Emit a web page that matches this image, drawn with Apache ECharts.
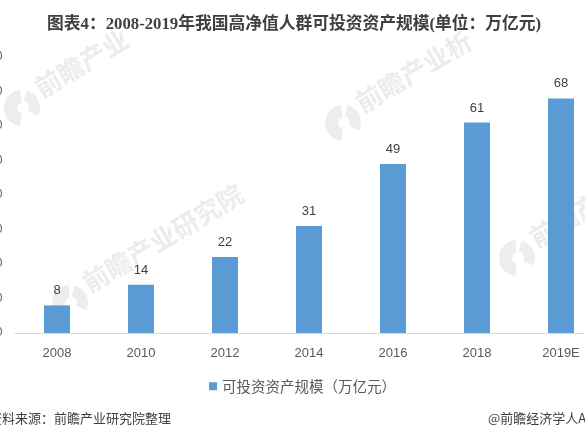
<!DOCTYPE html>
<html>
<head>
<meta charset="utf-8">
<style>html,body{margin:0;padding:0;background:#fff}#chart{width:585px;height:439px}</style>
<script src="https://cdn.jsdelivr.net/npm/echarts@6/dist/echarts.min.js"></script>
</head>
<body>
<div id="chart"></div>
<script>
var years = ['2008','2010','2012','2014','2016','2018','2019E'];
var assets = [8,14,22,31,49,61,68];
var seriesName = '可投资资产规模（万亿元）';
var titleText = '图表4：2008-2019年我国高净值人群可投资资产规模(单位：万亿元)';
var fontCn = '"Noto Sans CJK SC","Noto Sans",sans-serif';

// 水印
function rad(d){ return d*Math.PI/180; }
function watermark(x, y, text){
	return [
		{type:'sector', silent:true, z:0,
			shape:{cx:x, cy:y, r:18, r0:5, startAngle:rad(95), endAngle:rad(265)},
			style:{fill:'#ededed'}},
		{type:'sector', silent:true, z:0,
			shape:{cx:x, cy:y, r:18, r0:7, startAngle:rad(285), endAngle:rad(385)},
			style:{fill:'#ededed'}},
		{type:'text', x:x+15, y:y-18, rotation:rad(31), silent:true, z:0,
			style:{text:text, fill:'#ececec', font:'bold 26px '+fontCn, textVerticalAlign:'middle'}}
	];
}

var myChart = echarts.init(document.getElementById('chart'));
var option = {
	animation:false,
	title:{
		text:titleText, left:42, top:11,
		textStyle:{fontFamily:'"Liberation Serif","Noto Sans CJK SC",serif', fontSize:16.75, fontWeight:'bold', color:'#404040'}
	},
	legend:{
		data:[seriesName], left:204, top:374, itemWidth:8, itemHeight:8, itemGap:6,
		icon:'rect',
		textStyle:{fontFamily:fontCn, fontSize:14.5, color:'#595959'}
	},
	grid:{left:15, right:-18, top:57, bottom:106, outerBoundsMode:'none'},
	xAxis:{
		type:'category', data:years,
		axisLine:{lineStyle:{color:'#d9d9d9'}},
		axisTick:{show:false},
		axisLabel:{fontFamily:'"Liberation Sans",sans-serif', fontSize:13, color:'#595959', margin:14, interval:0}
	},
	yAxis:{
		type:'value', min:0, max:80, interval:10,
		axisLine:{show:false}, axisTick:{show:false}, splitLine:{show:false},
		axisLabel:{fontFamily:'"Liberation Sans",sans-serif', fontSize:12, color:'#595959', margin:12.5}
	},
	series:[{
		name:seriesName, type:'bar', data:assets, barWidth:26, z:3,
		itemStyle:{color:'#5b9bd5'},
		label:{show:true, position:'top', distance:8, fontFamily:'"Liberation Sans",sans-serif', fontSize:13, color:'#404040'}
	}],
	graphic:[].concat(
		watermark(22,108,'前瞻产业'),
		watermark(70,303,'前瞻产业研究院'),
		watermark(343,123,'前瞻产业析'),
		watermark(517,258,'前瞻产业研究院'),
		[
			{type:'text', x:-11, y:412, silent:true,
				style:{text:'资料来源：前瞻产业研究院整理', fill:'#404040', font:'13px '+fontCn}},
			{type:'text', x:488, y:412, silent:true,
				style:{text:'@前瞻经济学人APP', fill:'#404040', font:'13px '+fontCn}}
		]
	)
};
myChart.setOption(option);
</script>
</body>
</html>
